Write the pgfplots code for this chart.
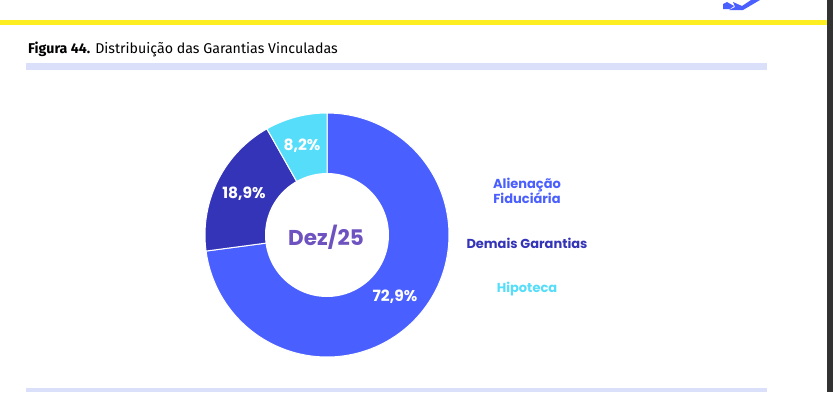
\documentclass[border=0pt]{standalone}
\usepackage{fontspec}
\setmainfont{Fira Sans}
\newfontfamily\pop{Poppins}
\usepackage{pgfplots}
\pgfplotsset{compat=1.18}
\definecolor{cA}{HTML}{4A5FFF}
\definecolor{cD}{HTML}{3434B8}
\definecolor{cH}{HTML}{55DDFA}
\definecolor{cC}{HTML}{6E52C0}
\definecolor{lav}{HTML}{DADFFA}
\definecolor{yel}{HTML}{FCEE21}
\definecolor{strip}{HTML}{333333}
% shares (%)
\def\vA{72.9}\def\vD{18.9}\def\vH{8.2}
\pgfmathsetmacro{\aA}{90}
\pgfmathsetmacro{\aB}{90-3.6*\vA}
\pgfmathsetmacro{\aC}{\aB-3.6*\vD}
\pgfmathsetmacro{\aD}{\aC-3.6*\vH}
\begin{document}
\begin{tikzpicture}
\begin{axis}[
  scale only axis, x=1pt, y=1pt, y dir=reverse,
  xmin=0, xmax=833, ymin=0, ymax=392,
  axis lines=none, ticks=none, clip=false,
]
% background
\addplot[fill=white, draw=none] coordinates {(0,0) (833,0) (833,392) (0,392)} -- cycle;
% yellow rule and right strip
\addplot[fill=yel, draw=none] coordinates {(0,20) (827,20) (827,25) (0,25)} -- cycle;
\addplot[fill=strip, draw=none] coordinates {(827,0) (833,0) (833,392) (827,392)} -- cycle;
% logo fragment
\addplot[fill=cA, draw=none] coordinates {(723,4) (727,2) (734,6) (730,9) (723,9)} -- cycle;
\addplot[fill=cA, draw=none] coordinates {(733,2) (742,6) (751,0) (760,0) (743,10) (729,10) (735,7)} -- cycle;
% lavender bars
\addplot[fill=lav, draw=none] coordinates {(26,63) (767,63) (767,70) (26,70)} -- cycle;
\addplot[fill=lav, draw=none] coordinates {(26,388) (767,388) (767,392) (26,392)} -- cycle;
% donut slices
\addplot[fill=cA, draw=white, line width=1pt, domain=\aB:\aA, samples=120]
  ({327+122*cos(x)},{235-122*sin(x)}) -- (axis cs:327,235) -- cycle;
\addplot[fill=cD, draw=white, line width=1pt, domain=\aC:\aB, samples=60]
  ({327+122*cos(x)},{235-122*sin(x)}) -- (axis cs:327,235) -- cycle;
\addplot[fill=cH, draw=white, line width=1pt, domain=\aD:\aC, samples=40]
  ({327+122*cos(x)},{235-122*sin(x)}) -- (axis cs:327,235) -- cycle;
\addplot[fill=white, draw=none, domain=0:360, samples=120]
  ({327+62*cos(x)},{235-62*sin(x)}) -- cycle;
% texts
\node[anchor=base west, inner sep=0pt, font=\fontsize{14.2}{16}\selectfont] at (axis cs:28,53)
  {\textbf{Figura 44.} Distribuição das Garantias Vinculadas};
\node[text=cC, font=\pop\bfseries\fontsize{21.5}{24}\selectfont] at (axis cs:326,237) {Dez/25};
\node[text=white, font=\pop\bfseries\fontsize{15.5}{17}\selectfont] at (axis cs:395,297) {72,9\%};
\node[text=white, font=\pop\bfseries\fontsize{15.5}{17}\selectfont] at (axis cs:244,194) {18,9\%};
\node[text=white, font=\pop\bfseries\fontsize{15.5}{17}\selectfont] at (axis cs:302,146) {8,2\%};
\node[text=cA, align=center, font=\pop\bfseries\fontsize{13}{15.5}\selectfont] at (axis cs:527,191) {Alienação\\Fiduciária};
\node[text=cD, font=\pop\bfseries\fontsize{13}{15}\selectfont] at (axis cs:527,243) {Demais Garantias};
\node[text=cH, font=\pop\bfseries\fontsize{13}{15}\selectfont] at (axis cs:527,289) {Hipoteca};
\end{axis}
\end{tikzpicture}
\end{document}
